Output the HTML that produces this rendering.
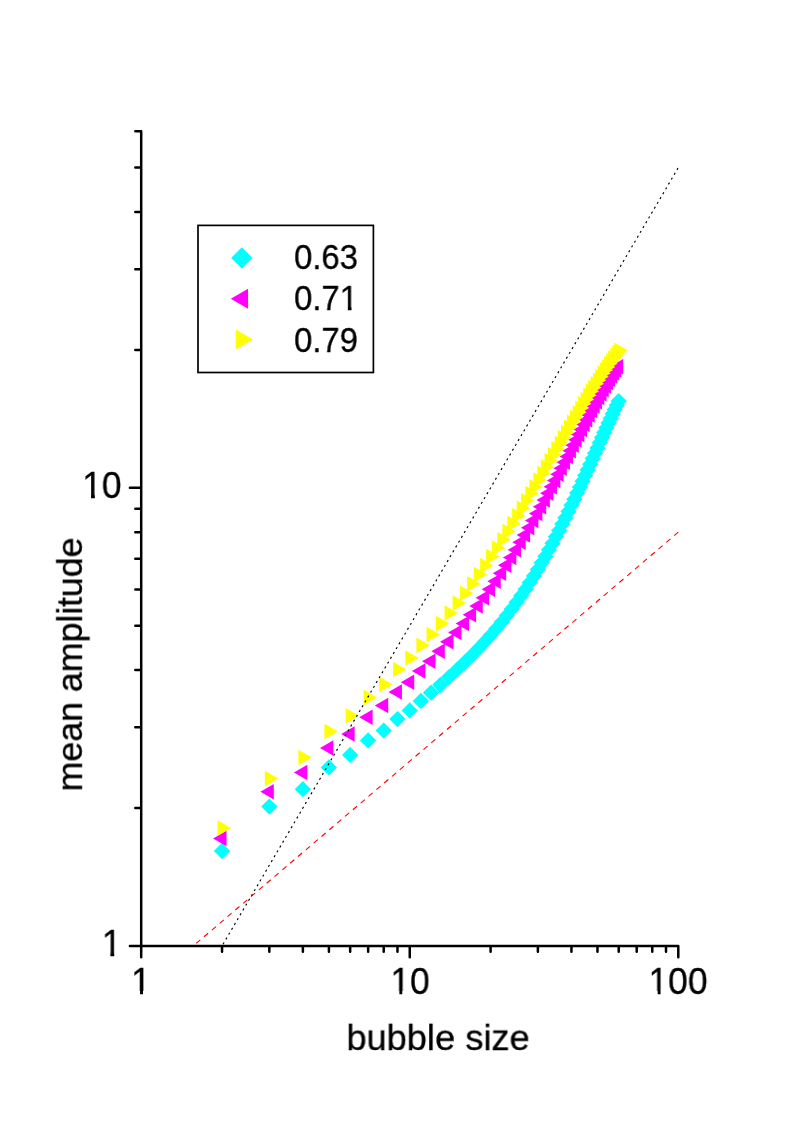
<!DOCTYPE html>
<html><head><meta charset="utf-8"><title>chart</title>
<style>
html,body{margin:0;padding:0;background:#fff}
body{width:788px;height:1134px;position:relative;overflow:hidden;font-family:"Liberation Sans",sans-serif;color:#000}
.t{position:absolute;will-change:transform;font-size:36.5px;line-height:41px;height:41px;white-space:nowrap;-webkit-text-stroke:0.3px #000}
.one{position:relative;left:0}
.one::before,.one::after{content:"";display:inline-block;position:relative;z-index:1;height:0.12em;background:#fff;vertical-align:-0.025em}
.one::before{width:0.205em;margin-left:0.045em;margin-right:-0.25em}
.one::after{width:0.2em;margin-left:-0.212em;margin-right:0.012em}
.ax{transform:scaleX(0.97)}
.lg{font-size:35.5px;transform:scaleX(0.927);transform-origin:left center}
</style></head><body>
<svg width="788" height="1134" viewBox="0 0 788 1134" style="position:absolute;left:0;top:0">
<path d="M222.04 842.85L230.19 851L222.04 859.15L213.89 851ZM269.33 798.45L277.48 806.6L269.33 814.75L261.18 806.6ZM302.88 781.05L311.03 789.2L302.88 797.35L294.73 789.2ZM328.91 759.3L337.06 767.45L328.91 775.6L320.76 767.45ZM350.17 746.75L358.32 754.9L350.17 763.05L342.02 754.9ZM368.15 732.25L376.3 740.4L368.15 748.55L360 740.4ZM383.72 722.45L391.87 730.6L383.72 738.75L375.57 730.6ZM397.46 710.95L405.61 719.1L397.46 727.25L389.31 719.1ZM409.75 702.35L417.9 710.5L409.75 718.65L401.6 710.5ZM420.87 692.75L429.02 700.9L420.87 709.05L412.72 700.9ZM431.01 684.55L439.16 692.7L431.01 700.85L422.86 692.7ZM440.35 676.69L448.5 684.84L440.35 692.99L432.2 684.84ZM448.99 668.96L457.14 677.11L448.99 685.26L440.84 677.11ZM457.04 661.54L465.19 669.69L457.04 677.84L448.89 669.69ZM464.57 654.36L472.72 662.51L464.57 670.66L456.42 662.51ZM471.64 647.38L479.79 655.53L471.64 663.68L463.49 655.53ZM478.3 640.55L486.45 648.7L478.3 656.85L470.15 648.7ZM484.61 633.81L492.76 641.96L484.61 650.11L476.46 641.96ZM490.59 627.14L498.74 635.29L490.59 643.44L482.44 635.29ZM496.28 620.52L504.43 628.67L496.28 636.82L488.13 628.67ZM501.71 613.92L509.86 622.07L501.71 630.22L493.56 622.07ZM506.89 607.34L515.04 615.49L506.89 623.64L498.74 615.49ZM511.86 600.75L520.01 608.9L511.86 617.05L503.71 608.9ZM516.62 594.17L524.77 602.32L516.62 610.47L508.47 602.32ZM521.19 587.59L529.34 595.74L521.19 603.89L513.04 595.74ZM525.59 581L533.74 589.15L525.59 597.3L517.44 589.15ZM529.83 574.41L537.98 582.56L529.83 590.71L521.68 582.56ZM533.93 567.83L542.08 575.98L533.93 584.13L525.78 575.98ZM537.88 561.26L546.03 569.41L537.88 577.56L529.73 569.41ZM541.71 554.69L549.86 562.84L541.71 570.99L533.56 562.84ZM545.41 548.15L553.56 556.3L545.41 564.45L537.26 556.3ZM549 541.63L557.15 549.78L549 557.93L540.85 549.78ZM552.48 535.14L560.63 543.29L552.48 551.44L544.33 543.29ZM555.86 528.68L564.01 536.83L555.86 544.98L547.71 536.83ZM559.15 522.27L567.3 530.42L559.15 538.57L551 530.42ZM562.34 515.9L570.49 524.05L562.34 532.2L554.19 524.05ZM565.45 509.59L573.6 517.74L565.45 525.89L557.3 517.74ZM568.48 503.33L576.63 511.48L568.48 519.63L560.33 511.48ZM571.43 497.14L579.58 505.29L571.43 513.44L563.28 505.29ZM574.31 491.02L582.46 499.17L574.31 507.32L566.16 499.17ZM577.12 484.97L585.27 493.12L577.12 501.27L568.97 493.12ZM579.87 479L588.02 487.15L579.87 495.3L571.72 487.15ZM582.55 473.11L590.7 481.26L582.55 489.41L574.4 481.26ZM585.17 467.31L593.32 475.46L585.17 483.61L577.02 475.46ZM587.73 461.6L595.88 469.75L587.73 477.9L579.58 469.75ZM590.24 455.99L598.39 464.14L590.24 472.29L582.09 464.14ZM592.7 450.47L600.85 458.62L592.7 466.77L584.55 458.62ZM595.1 445.05L603.25 453.2L595.1 461.35L586.95 453.2ZM597.46 439.75L605.61 447.9L597.46 456.05L589.31 447.9ZM599.77 434.54L607.92 442.69L599.77 450.84L591.62 442.69ZM602.03 429.45L610.18 437.6L602.03 445.75L593.88 437.6ZM604.25 424.47L612.4 432.62L604.25 440.77L596.1 432.62ZM606.43 419.61L614.58 427.76L606.43 435.91L598.28 427.76ZM608.57 414.86L616.72 423.01L608.57 431.16L600.42 423.01ZM610.68 410.23L618.83 418.38L610.68 426.53L602.53 418.38ZM612.74 405.72L620.89 413.87L612.74 422.02L604.59 413.87ZM614.77 401.34L622.92 409.49L614.77 417.64L606.62 409.49ZM616.76 397.08L624.91 405.23L616.76 413.38L608.61 405.23ZM618.72 392.94L626.87 401.09L618.72 409.24L610.57 401.09Z" fill="#00ffff"/>
<path d="M213.09 838.6L226.52 830.85L226.52 846.35ZM260.38 791.8L273.81 784.05L273.81 799.55ZM293.93 772.4L307.36 764.65L307.36 780.15ZM319.96 748.1L333.38 740.35L333.38 755.85ZM341.22 733.9L354.65 726.15L354.65 741.65ZM359.2 717.3L372.63 709.55L372.63 725.05ZM374.78 705.6L388.2 697.85L388.2 713.35ZM388.51 692.1L401.94 684.35L401.94 699.85ZM400.8 682.2L414.22 674.45L414.22 689.95ZM411.92 671.1L425.34 663.35L425.34 678.85ZM422.07 661.35L435.49 653.6L435.49 669.1ZM431.4 651.34L444.82 643.59L444.82 659.09ZM440.04 641.81L453.47 634.06L453.47 649.56ZM448.09 632.56L461.51 624.81L461.51 640.31ZM455.62 623.54L469.04 615.79L469.04 631.29ZM462.69 614.73L476.11 606.98L476.11 622.48ZM469.35 606.1L482.78 598.35L482.78 613.85ZM475.66 597.64L489.08 589.89L489.08 605.39ZM481.64 589.34L495.07 581.59L495.07 597.09ZM487.33 581.18L500.76 573.43L500.76 588.93ZM492.76 573.16L506.18 565.41L506.18 580.91ZM497.94 565.27L511.37 557.52L511.37 573.02ZM502.91 557.51L516.33 549.76L516.33 565.26ZM507.67 549.87L521.09 542.12L521.09 557.62ZM512.24 542.36L525.67 534.61L525.67 550.11ZM516.64 534.97L530.07 527.22L530.07 542.72ZM520.89 527.71L534.31 519.96L534.31 535.46ZM524.98 520.58L538.4 512.83L538.4 528.33ZM528.93 513.57L542.36 505.82L542.36 521.32ZM532.76 506.69L546.18 498.94L546.18 514.44ZM536.46 499.93L549.88 492.18L549.88 507.68ZM540.05 493.31L553.47 485.56L553.47 501.06ZM543.53 486.82L556.95 479.07L556.95 494.57ZM546.91 480.47L560.33 472.72L560.33 488.22ZM550.2 474.24L563.62 466.49L563.62 481.99ZM553.39 468.16L566.82 460.41L566.82 475.91ZM556.5 462.21L569.93 454.46L569.93 469.96ZM559.53 456.4L572.95 448.65L572.95 464.15ZM562.48 450.73L575.91 442.98L575.91 458.48ZM565.36 445.19L578.79 437.44L578.79 452.94ZM568.17 439.8L581.6 432.05L581.6 447.55ZM570.92 434.55L584.34 426.8L584.34 442.3ZM573.6 429.44L587.02 421.69L587.02 437.19ZM576.22 424.47L589.64 416.72L589.64 432.22ZM578.78 419.64L592.21 411.89L592.21 427.39ZM581.29 414.95L594.72 407.2L594.72 422.7ZM583.75 410.41L597.17 402.66L597.17 418.16ZM586.15 406L599.58 398.25L599.58 413.75ZM588.51 401.74L601.93 393.99L601.93 409.49ZM590.82 397.62L604.24 389.87L604.24 405.37ZM593.08 393.64L606.51 385.89L606.51 401.39ZM595.31 389.8L608.73 382.05L608.73 397.55ZM597.49 386.11L610.91 378.36L610.91 393.86ZM599.63 382.55L613.05 374.8L613.05 390.3ZM601.73 379.13L615.15 371.38L615.15 386.88ZM603.79 375.85L617.21 368.1L617.21 383.6ZM605.82 372.71L619.24 364.96L619.24 380.46ZM607.81 369.71L621.24 361.96L621.24 377.46ZM609.77 366.84L623.2 359.09L623.2 374.59Z" fill="#ff00ff"/>
<path d="M230.99 828.1L217.57 820.35L217.57 835.85ZM278.28 778.4L264.86 770.65L264.86 786.15ZM311.83 757.6L298.41 749.85L298.41 765.35ZM337.86 731.5L324.43 723.75L324.43 739.25ZM359.12 715.8L345.7 708.05L345.7 723.55ZM377.1 697.4L363.68 689.65L363.68 705.15ZM392.67 684.6L379.25 676.85L379.25 692.35ZM406.41 669.6L392.99 661.85L392.99 677.35ZM418.7 658L405.28 650.25L405.28 665.75ZM429.81 645.3L416.39 637.55L416.39 653.05ZM439.96 634.6L426.54 626.85L426.54 642.35ZM449.3 623.43L435.88 615.68L435.88 631.18ZM457.94 613.09L444.52 605.34L444.52 620.84ZM465.99 603.06L452.56 595.31L452.56 610.81ZM473.52 593.3L460.09 585.55L460.09 601.05ZM480.59 583.78L467.16 576.03L467.16 591.53ZM487.25 574.5L473.83 566.75L473.83 582.25ZM493.56 565.44L480.13 557.69L480.13 573.19ZM499.54 556.61L486.12 548.86L486.12 564.36ZM505.23 548L491.81 540.25L491.81 555.75ZM510.66 539.6L497.23 531.85L497.23 547.35ZM515.84 531.42L502.42 523.67L502.42 539.17ZM520.8 523.44L507.38 515.69L507.38 531.19ZM525.57 515.68L512.14 507.93L512.14 523.43ZM530.14 508.13L516.72 500.38L516.72 515.88ZM534.54 500.77L521.12 493.02L521.12 508.52ZM538.78 493.62L525.36 485.87L525.36 501.37ZM542.88 486.67L529.45 478.92L529.45 494.42ZM546.83 479.91L533.41 472.16L533.41 487.66ZM550.65 473.35L537.23 465.6L537.23 481.1ZM554.36 466.97L540.93 459.22L540.93 474.72ZM557.95 460.78L544.52 453.03L544.52 468.53ZM561.43 454.76L548 447.01L548 462.51ZM564.81 448.93L551.39 441.18L551.39 456.68ZM568.09 443.26L554.67 435.51L554.67 451.01ZM571.29 437.77L557.87 430.02L557.87 445.52ZM574.4 432.44L560.98 424.69L560.98 440.19ZM577.43 427.28L564.01 419.53L564.01 435.03ZM580.38 422.27L566.96 414.52L566.96 430.02ZM583.26 417.41L569.84 409.66L569.84 425.16ZM586.07 412.71L572.65 404.96L572.65 420.46ZM588.82 408.16L575.39 400.41L575.39 415.91ZM591.5 403.75L578.07 396L578.07 411.5ZM594.12 399.48L580.7 391.73L580.7 407.23ZM596.68 395.35L583.26 387.6L583.26 403.1ZM599.19 391.35L585.77 383.6L585.77 399.1ZM601.65 387.48L588.22 379.73L588.22 395.23ZM604.05 383.75L590.63 376L590.63 391.5ZM606.41 380.14L592.98 372.39L592.98 387.89ZM608.72 376.65L595.29 368.9L595.29 384.4ZM610.98 373.28L597.56 365.53L597.56 381.03ZM613.2 370.02L599.78 362.27L599.78 377.77ZM615.38 366.88L601.96 359.13L601.96 374.63ZM617.52 363.86L604.1 356.11L604.1 371.61ZM619.62 360.94L606.2 353.19L606.2 368.69ZM621.69 358.12L608.27 350.37L608.27 365.87ZM623.72 355.42L610.29 347.67L610.29 363.17ZM625.71 352.81L612.29 345.06L612.29 360.56ZM627.67 350.3L614.25 342.55L614.25 358.05Z" fill="#ffff00"/>
<path d="M678.3 167.6L222.04 945.9" stroke="#000" stroke-width="1.15" stroke-dasharray="2.1 3.51" stroke-dashoffset="-0.55" fill="none"/>
<path d="M678.3 532.19L193.25 945.9" stroke="#ff0000" stroke-width="1.1" stroke-dasharray="5.4 4.9" stroke-dashoffset="0" fill="none"/>
<path d="M141.2 131.33V957.2M129.9 945.9H678.3M222.04 945.9V951.8M269.33 945.9V951.8M302.88 945.9V951.8M328.91 945.9V951.8M350.17 945.9V951.8M368.15 945.9V951.8M383.72 945.9V951.8M397.46 945.9V951.8M490.59 945.9V951.8M537.88 945.9V951.8M571.43 945.9V951.8M597.46 945.9V951.8M618.72 945.9V951.8M636.7 945.9V951.8M652.27 945.9V951.8M666.01 945.9V951.8M409.75 945.9V957.2M678.3 945.9V957.2M141.2 808H135.3M141.2 727.33H135.3M141.2 670.1H135.3M141.2 625.7H135.3M141.2 589.43H135.3M141.2 558.76H135.3M141.2 532.19H135.3M141.2 508.76H135.3M141.2 349.9H135.3M141.2 269.23H135.3M141.2 212H135.3M141.2 167.6H135.3M141.2 131.33H135.3M141.2 487.8H129.9" stroke="#000" stroke-width="2.5" stroke-linecap="round" fill="none"/>
<rect x="198" y="225.4" width="175.4" height="147.1" fill="#fff" stroke="#000" stroke-width="1.7"/>
<path d="M241.8 247.25L252.45 257.9L241.8 268.55L231.15 257.9Z" fill="#00ffff"/>
<path d="M230.75 298.8L248.07 288.8L248.07 308.8Z" fill="#ff00ff"/>
<path d="M253.05 339.6L235.73 329.6L235.73 349.6Z" fill="#ffff00"/>
</svg>

<div class="t ax" style="left:0;width:121.6px;top:464.8px;text-align:right;transform-origin:right center"><span class="one">1</span>0</div>
<div class="t ax" style="left:0;width:121.6px;top:922.9px;text-align:right;transform-origin:right center"><span class="one">1</span></div>
<div class="t ax" style="left:91.2px;width:100px;top:961.1px;text-align:center"><span class="one">1</span></div>
<div class="t ax" style="left:359.75px;width:100px;top:961.1px;text-align:center"><span class="one">1</span>0</div>
<div class="t ax" style="left:628.3px;width:100px;top:961.1px;text-align:center"><span class="one">1</span>00</div>
<div class="t" style="left:337.5px;width:200px;top:1017px;text-align:center;transform:scale(0.993,0.97);transform-origin:center 33.2px">bubble size</div>
<div class="t" style="left:-90.2px;width:320px;top:644.3px;text-align:center;font-size:36px;letter-spacing:-0.16px;transform:rotate(-90deg) scaleY(0.95);transform-origin:center center">mean amplitude</div>
<div class="t lg" style="left:293.5px;top:237.2px">0.63</div>
<div class="t lg" style="left:293.5px;top:278px">0.7<span class="one">1</span></div>
<div class="t lg" style="left:293.5px;top:319.8px">0.79</div>

</body></html>
